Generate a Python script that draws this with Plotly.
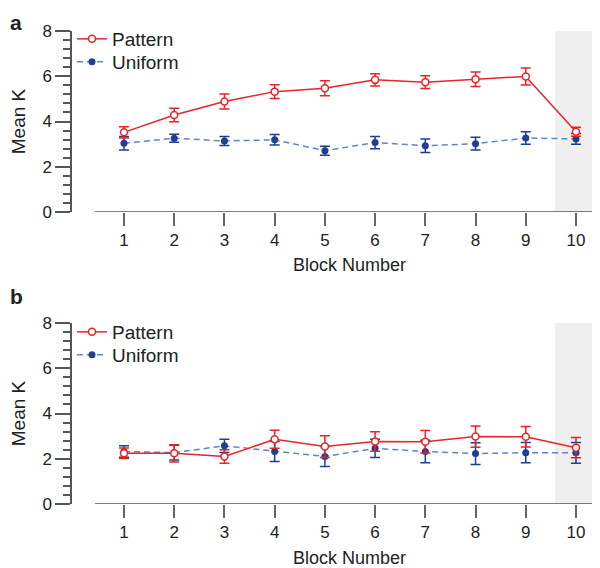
import plotly.graph_objects as go

blocks = [1, 2, 3, 4, 5, 6, 7, 8, 9, 10]

# panel a
pattern_a = [3.52, 4.29, 4.88, 5.32, 5.47, 5.84, 5.74, 5.87, 5.99, 3.55]
pattern_a_err = [0.25, 0.30, 0.33, 0.30, 0.33, 0.27, 0.28, 0.32, 0.38, 0.20]
uniform_a = [3.04, 3.26, 3.14, 3.19, 2.71, 3.07, 2.93, 3.02, 3.27, 3.23]
uniform_a_err = [0.30, 0.18, 0.20, 0.23, 0.20, 0.27, 0.30, 0.28, 0.28, 0.24]

# panel b
pattern_b = [2.24, 2.24, 2.10, 2.86, 2.54, 2.76, 2.75, 2.98, 2.97, 2.49]
pattern_b_err = [0.23, 0.38, 0.30, 0.40, 0.48, 0.43, 0.50, 0.47, 0.45, 0.45]
uniform_b = [2.32, 2.27, 2.57, 2.32, 2.10, 2.46, 2.32, 2.23, 2.27, 2.26]
uniform_b_err = [0.25, 0.33, 0.29, 0.44, 0.44, 0.40, 0.50, 0.48, 0.45, 0.46]

RED = "#e8232a"
NAVY = "#1f3f94"
LIGHTBLUE = "#5f83cf"
FONT = "Liberation Sans, Arial, sans-serif"

xr = [-0.035, 10.478]

fig = go.Figure()

# (x axis, y axis, legend for Pattern, legend for Uniform, data...)
panels = [
    ("x", "y", "legend", "legend2", pattern_a, pattern_a_err, uniform_a, uniform_a_err),
    ("x2", "y2", "legend3", "legend4", pattern_b, pattern_b_err, uniform_b, uniform_b_err),
]

for xa, ya, lgp, lgu, pv, pe, uv, ue in panels:
    fig.add_trace(go.Scatter(
        x=blocks, y=uv, name="Uniform", xaxis=xa, yaxis=ya, legend=lgu,
        mode="lines+markers",
        line=dict(color=LIGHTBLUE, width=1.5, dash="6px,4px"),
        marker=dict(color=NAVY, size=7),
        error_y=dict(type="data", array=ue, color=NAVY, thickness=1.5, width=5),
    ))
    fig.add_trace(go.Scatter(
        x=blocks, y=pv, name="Pattern", xaxis=xa, yaxis=ya, legend=lgp,
        mode="lines+markers",
        line=dict(color=RED, width=1.5),
        marker=dict(color="white", size=7, line=dict(color=RED, width=1.5)),
        error_y=dict(type="data", array=pe, color=RED, thickness=1.5, width=5),
    ))
    # shaded test block
    fig.add_shape(type="rect", xref=xa, yref=ya, x0=9.58, x1=xr[1], y0=0, y1=8,
                  fillcolor="#efefef", line_width=0, layer="below")
    # detached x axis line
    fig.add_shape(type="line", xref=xa, yref=ya, x0=0.42, x1=xr[1], y0=0, y1=0,
                  line=dict(color="#555555", width=1.5))

xaxis_style = dict(
    range=xr, tickmode="array", tickvals=blocks, ticks="outside", ticklen=13,
    tickcolor="#666666", tickwidth=1.5, showline=False, showgrid=False,
    zeroline=False, tickfont=dict(size=17, color="#222222"), automargin=False,
)
yaxis_style = dict(
    range=[0, 8], dtick=2, ticks="outside", ticklen=15, tickcolor="#555555",
    tickwidth=1.5, showline=True, linecolor="#555555", linewidth=1.5,
    showgrid=False, zeroline=False, tickfont=dict(size=17, color="#222222"),
    minor=dict(dtick=0.4, ticks="outside", ticklen=7, tickcolor="#555555",
               tickwidth=1.5, showgrid=False),
    title=dict(text="Mean K", font=dict(size=19, color="#222222"), standoff=14),
    automargin=False,
)

legend_style = dict(
    x=0.0, xanchor="left", yanchor="middle", bgcolor="rgba(0,0,0,0)",
    borderwidth=0, font=dict(size=19, color="#222222"), itemwidth=30,
)

# the page body adds an 8px margin, so the figure is 8px smaller than the window
W, H = 592, 560
T, B, L = 23, 64, 64
PLOT_H = H - T - B


def py(pixel):
    # pixel row of the window -> paper fraction
    return (H - B - (pixel - 8)) / PLOT_H


fig.update_layout(
    width=W, height=H,
    margin=dict(l=L, r=0, t=T, b=B),
    plot_bgcolor="white", paper_bgcolor="white",
    font=dict(family=FONT, color="#222222"),
    showlegend=True,
    xaxis=dict(domain=[0, 1], anchor="y", **xaxis_style),
    yaxis=dict(domain=[py(212), 1], anchor="x", **yaxis_style),
    xaxis2=dict(domain=[0, 1], anchor="y2", **xaxis_style),
    yaxis2=dict(domain=[0, py(323)], anchor="x2", **yaxis_style),
    legend=dict(y=py(39), **legend_style),
    legend2=dict(y=py(62), **legend_style),
    legend3=dict(y=py(332), **legend_style),
    legend4=dict(y=py(355), **legend_style),
    annotations=[
        dict(text="Block Number", xref="x", yref="paper", x=5.5, y=py(265),
             yanchor="middle", showarrow=False, font=dict(size=18)),
        dict(text="Block Number", xref="x2", yref="paper", x=5.5, y=py(558),
             yanchor="middle", showarrow=False, font=dict(size=18)),
        dict(text="<b>a</b>", xref="paper", yref="paper", x=-L / 528,
             y=py(9), xanchor="left", yanchor="top", showarrow=False,
             font=dict(size=21)),
        dict(text="<b>b</b>", xref="paper", yref="paper", x=-L / 528,
             y=py(297), xanchor="left", yanchor="middle", showarrow=False,
             font=dict(size=21)),
    ],
)

fig.write_html("out.html")
